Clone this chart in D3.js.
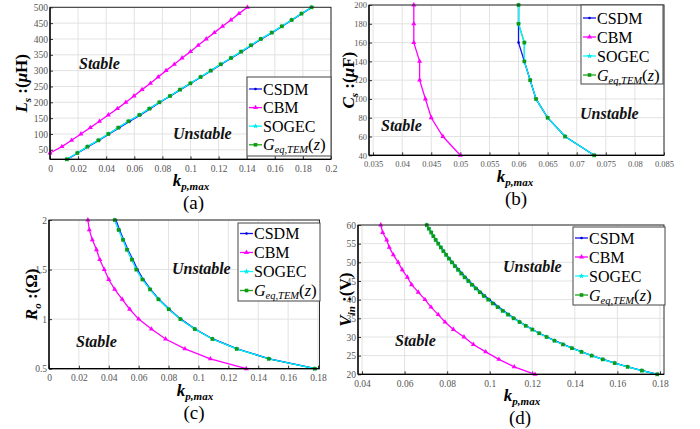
<!DOCTYPE html>
<html><head><meta charset="utf-8">
<script src="https://cdn.jsdelivr.net/npm/d3@7"></script>
<style>
html,body{margin:0;padding:0;background:#fff;}
svg{display:block;}
svg text{font-family:"Liberation Serif","Tinos","Times New Roman","DejaVu Serif",serif !important;}
</style></head>
<body>
<svg id="chart" width="700" height="429"></svg>
<script>
// ---------- DATA ----------
// (a) Ls (uH) vs kp,max
const aLsCBM = [40,60,80,100,120,140,160,180,200,220,240,260,280,300,320,340,360,380,400,420,440,460,480,500];
const aKpCBM = [0,0.0085,0.0154,0.022,0.0287,0.0352,0.0415,0.048,0.054,0.0598,0.0655,0.0715,0.077,0.0826,0.0885,0.094,0.1,0.1055,0.1112,0.117,0.1228,0.1288,0.1345,0.1405];
const aLsEQ = [20,40,60,80,100,120,140,160,180,200,220,240,260,280,300,320,340,360,380,400,420,440,460,480,500];
const aKpCSDM = [0.0125,0.0198,0.0272,0.0350,0.0421,0.0494,0.0568,0.0644,0.0714,0.0783,0.0858,0.093,0.1003,0.1076,0.1148,0.1219,0.1293,0.1366,0.1436,0.1505,0.1582,0.1653,0.1723,0.1793,0.1865];
const aKpSOGEC = [0.012,0.0195,0.0266,0.0344,0.0415,0.0486,0.0558,0.0636,0.0707,0.0778,0.0854,0.0925,0.0999,0.1072,0.1144,0.1215,0.1288,0.136,0.143,0.150,0.1578,0.165,0.172,0.179,0.1862];
const aKpGEQ = [0.012,0.0195,0.0266,0.0344,0.0415,0.0486,0.0558,0.0636,0.0707,0.0778,0.0854,0.0925,0.0999,0.1072,0.1144,0.1215,0.1288,0.136,0.143,0.150,0.1578,0.165,0.172,0.179,0.1862];
const aXTicks = [0,0.02,0.04,0.06,0.08,0.1,0.12,0.14,0.16,0.18,0.2];
const aYTicks = [50,100,150,200,250,300,350,400,450,500];

// (b) Cs (uF) vs kp,max
const bCs = [200,180,160,140,120,100,80,60,40];
const bKpCBM = [0.042,0.042,0.042,0.043,0.043,0.044,0.045,0.047,0.050];
const bKpCSDM = [0.060,0.060,0.060,0.061,0.062,0.063,0.065,0.068,0.073];
const bKpSOGEC = [0.060,0.060,0.061,0.061,0.062,0.063,0.065,0.068,0.073];
const bKpGEQ = [0.060,0.060,0.061,0.061,0.062,0.063,0.065,0.068,0.073];
const bXTicks = [0.035,0.04,0.045,0.05,0.055,0.06,0.065,0.07,0.075,0.08,0.085];
const bYTicks = [40,60,80,100,120,140,160,180,200];

// (c) Ro (Ohm) vs kp,max
const cRo = [2.0,1.9,1.8,1.7,1.6,1.5,1.4,1.3,1.2,1.1,1.0,0.9,0.8,0.7,0.6,0.5];
const cKpCBM = [0.026,0.027,0.029,0.0318,0.034,0.037,0.040,0.044,0.049,0.054,0.060,0.0685,0.078,0.091,0.108,0.132];
const cKpCSDM = [0.0448,0.0472,0.0500,0.0528,0.0561,0.0592,0.0631,0.0680,0.0736,0.0805,0.0882,0.0978,0.1096,0.1260,0.1476,0.1785];
const cKpSOGEC = [0.044,0.0466,0.0495,0.0522,0.0555,0.0584,0.0625,0.0676,0.0732,0.0801,0.0879,0.0975,0.1093,0.1256,0.147,0.1778];
const cKpGEQ = [0.044,0.0466,0.0495,0.0522,0.0555,0.0584,0.0625,0.0676,0.0732,0.0801,0.0879,0.0975,0.1093,0.1256,0.147,0.1778];
const cXTicks = [0,0.02,0.04,0.06,0.08,0.1,0.12,0.14,0.16,0.18];
const cYTicks = [0.5,1,1.5,2];

// (d) Vin (V) vs kp,max
const dVinCBM = [60,58,56,54,52,50,48,46,44,42,40,38,36,34,32,30,28,26,24,22,20];
const dKpCBM = [0.0488,0.0497,0.0516,0.0528,0.0547,0.0570,0.0589,0.0613,0.0633,0.0664,0.0696,0.0724,0.0758,0.0790,0.0829,0.0879,0.0923,0.0981,0.1043,0.1115,0.1213];
const dVinEQ = [60,59,58,57,56,55,54,53,52,51,50,49,48,47,46,45,44,43,42,41,40,39,38,37,36,35,34,33,32,31,30,29,28,27,26,25,24,23,22,21,20];
const dKpCSDM = [0.0704,0.0714,0.0725,0.0736,0.0747,0.0759,0.0771,0.0784,0.0797,0.0811,0.0825,0.0840,0.0855,0.0870,0.0886,0.0903,0.0921,0.0939,0.0958,0.0978,0.0999,0.1020,0.1042,0.1065,0.1090,0.1115,0.1142,0.1171,0.1202,0.1234,0.1269,0.1306,0.1346,0.1388,0.1433,0.1481,0.1533,0.1589,0.1650,0.1717,0.1790];
const dKpSOGEC = [0.0704,0.0714,0.0725,0.0735,0.0746,0.0758,0.0770,0.0782,0.0795,0.0808,0.0822,0.0836,0.0851,0.0866,0.0882,0.0899,0.0916,0.0934,0.0953,0.0972,0.0993,0.1014,0.1037,0.1061,0.1086,0.1112,0.1140,0.1169,0.1200,0.1232,0.1267,0.1304,0.1344,0.1386,0.1431,0.1479,0.1531,0.1587,0.1648,0.1715,0.1787];
const dKpGEQ = [0.0704,0.0714,0.0725,0.0735,0.0746,0.0758,0.0770,0.0782,0.0795,0.0808,0.0822,0.0836,0.0851,0.0866,0.0882,0.0899,0.0916,0.0934,0.0953,0.0972,0.0993,0.1014,0.1037,0.1061,0.1086,0.1112,0.1140,0.1169,0.1200,0.1232,0.1267,0.1304,0.1344,0.1386,0.1431,0.1479,0.1531,0.1587,0.1648,0.1715,0.1787];
const dXTicks = [0.04,0.06,0.08,0.1,0.12,0.14,0.16,0.18];
const dYTicks = [20,25,30,35,40,45,50,55,60];

const seriesNames = ["CSDM","CBM","SOGEC","Geq"];
const panelLetters = ["(a)","(b)","(c)","(d)"];

// ---------- STYLE ----------
const FONT = "'Liberation Serif','Tinos','Times New Roman','DejaVu Serif',serif";
const COL = {CSDM:"#1010ff", CBM:"#ff00ff", SOGEC:"#00ffff", Geq:"#1aa81a"};
const svg = d3.select("#chart").attr("font-family",FONT);
const fmt = d => String(+(+d).toFixed(4));

function marker(g, name, cx, cy){
  if(name==="CSDM"){
    g.append("circle").attr("cx",cx).attr("cy",cy).attr("r",1.3).attr("fill","#0000cc");
  } else if(name==="CBM"){
    g.append("path").attr("d",d3.symbol(d3.symbolTriangle,11)()).attr("transform",`translate(${cx},${cy})`).attr("fill","#ff00ff");
  } else if(name==="SOGEC"){
    g.append("path").attr("d",d3.symbol(d3.symbolStar,10)()).attr("transform",`translate(${cx},${cy})`).attr("fill","#00e8e8");
  } else {
    g.append("path").attr("d",d3.symbol(d3.symbolSquare,13)()).attr("transform",`translate(${cx},${cy})`).attr("fill","#119911");
  }
}

function addYLabel(g, cx, cy, main, sub, unit){
  const t = g.append("text").attr("transform",`translate(${cx},${cy}) rotate(-90)`)
    .attr("text-anchor","middle").attr("font-size",17).attr("font-weight","bold").attr("fill","#000");
  t.append("tspan").attr("font-style","italic").text(main);
  t.append("tspan").attr("font-style","italic").attr("font-size",11).attr("dy",4).text(sub);
  t.append("tspan").attr("dy",-4).text(" :(");
  unit(t);
}

function addXLabel(g, cx, cy){
  const t = g.append("text").attr("x",cx).attr("y",cy).attr("text-anchor","middle")
    .attr("font-size",17).attr("font-weight","bold").attr("font-style","italic").attr("fill","#000");
  t.append("tspan").text("k");
  t.append("tspan").attr("font-size",11).attr("dy",4).text("p,max");
}

function panel(p){
  const g = svg.append("g");
  const x = d3.scaleLinear().domain(p.xd).range([p.l,p.r]);
  const y = d3.scaleLinear().domain(p.yd).range([p.b,p.t]);
  // grid
  g.append("g").selectAll("line").data(p.xt).join("line")
    .attr("x1",d=>x(d)).attr("x2",d=>x(d)).attr("y1",p.t).attr("y2",p.b)
    .attr("stroke","#e2e2e2").attr("stroke-width",1);
  g.append("g").selectAll("line").data(p.yt).join("line")
    .attr("y1",d=>y(d)).attr("y2",d=>y(d)).attr("x1",p.l).attr("x2",p.r)
    .attr("stroke","#e2e2e2").attr("stroke-width",1);
  // axes
  const ax = g.append("g").attr("transform",`translate(0,${p.b})`)
    .call(d3.axisBottom(x).tickValues(p.xt).tickFormat(fmt).tickSizeInner(-3).tickSizeOuter(0).tickPadding(5.5));
  const ay = g.append("g").attr("transform",`translate(${p.l},0)`)
    .call(d3.axisLeft(y).tickValues(p.yt).tickFormat(fmt).tickSizeInner(-3).tickSizeOuter(0).tickPadding(2));
  [ax,ay].forEach(a=>{
    a.attr("font-family",FONT);
    a.select(".domain").remove();
    a.selectAll("line").attr("stroke","#333");
    a.selectAll("text").attr("font-size",p.tfs).attr("fill","#555");
  });
  // series
  const line = d3.line().x(d=>x(d[0])).y(d=>y(d[1]));
  const order = ["Geq","CBM","CSDM","SOGEC"];
  order.forEach(n=>{
    const s = p.series[n];
    const pts = s.x.map((v,i)=>[v,s.y[i]]);
    g.append("path").datum(pts).attr("d",line).attr("fill","none")
      .attr("stroke",COL[n]).attr("stroke-width",n==="SOGEC"?1.2:1.3);
  });
  ["CSDM","CBM","SOGEC","Geq"].forEach(n=>{
    const s = p.series[n];
    s.x.forEach((v,i)=>marker(g,n,x(v),y(s.y[i])));
  });
  // box
  g.append("rect").attr("x",p.l).attr("y",p.t).attr("width",p.r-p.l).attr("height",p.b-p.t)
    .attr("fill","none").attr("stroke","#2a2a2a").attr("stroke-width",1);
  g.append("line").attr("x1",p.l).attr("x2",p.l).attr("y1",p.t).attr("y2",p.b).attr("stroke","#000").attr("stroke-width",1.3);
  g.append("line").attr("x1",p.l).attr("x2",p.r).attr("y1",p.b).attr("y2",p.b).attr("stroke","#000").attr("stroke-width",1.3);
  // region labels
  [["Stable",p.st],["Unstable",p.un]].forEach(([txt,pos])=>{
    g.append("text").attr("x",pos[0]).attr("y",pos[1]).attr("font-size",16)
      .attr("font-weight","bold").attr("font-style","italic").attr("fill","#111").text(txt);
  });
  // legend
  const L = p.leg;
  g.append("rect").attr("x",L.x).attr("y",L.y).attr("width",L.w).attr("height",L.h)
    .attr("fill","#fff").attr("stroke","#444").attr("stroke-width",1);
  seriesNames.forEach((n,i)=>{
    const cy = L.y + L.first + i*L.step;
    g.append("line").attr("x1",L.x+2).attr("x2",L.x+15).attr("y1",cy).attr("y2",cy)
      .attr("stroke",COL[n]).attr("stroke-width",1.3);
    marker(g,n,L.x+8.5,cy);
    const t = g.append("text").attr("x",L.x+16).attr("y",cy+5.5).attr("font-size",16).attr("fill","#000");
    if(n==="Geq"){
      t.append("tspan").attr("font-style","italic").text("G");
      t.append("tspan").attr("font-style","italic").attr("font-size",10.5).attr("dy",3).text("eq,TEM");
      t.append("tspan").attr("dy",-3).attr("font-size",17).text("(");
      t.append("tspan").attr("font-style","italic").text("z");
      t.append("tspan").attr("font-size",17).text(")");
    } else t.text(n);
  });
  // axis labels
  addXLabel(g,p.xlx,p.b+27);
  addYLabel(g,p.ylx,(p.t+p.b)/2,p.ylMain,p.ylSub,p.ylUnit);
  g.append("text").attr("x",p.letx).attr("y",p.b+50).attr("text-anchor","middle")
    .attr("font-size",19).attr("fill","#000").text(p.letter);
}

panel({
  l:50,r:331,t:7.3,b:159.3,xd:[0,0.2],yd:[20,500],xt:aXTicks,yt:aYTicks,tfs:9.5,
  series:{CSDM:{x:aKpCSDM,y:aLsEQ},CBM:{x:aKpCBM,y:aLsCBM},SOGEC:{x:aKpSOGEC,y:aLsEQ},Geq:{x:aKpGEQ,y:aLsEQ}},
  st:[79,69],un:[173,139],
  leg:{x:247,y:77,w:84,h:79,first:12,step:18.6},
  xlx:191,letx:193.5,
  ylx:27,ylMain:"L",ylSub:"s",ylUnit:t=>{t.append("tspan").attr("font-style","italic").text("μ");t.append("tspan").text("H)");},
  letter:panelLetters[0]
});
panel({
  l:369,r:664,t:5,b:155.3,xd:[0.0343,0.085],yd:[40,200],xt:bXTicks,yt:bYTicks,tfs:8.5,
  series:{CSDM:{x:bKpCSDM,y:bCs},CBM:{x:bKpCBM,y:bCs},SOGEC:{x:bKpSOGEC,y:bCs},Geq:{x:bKpGEQ,y:bCs}},
  st:[381,131],un:[580,119],
  leg:{x:581,y:5,w:82,h:79,first:13,step:19},
  xlx:515,letx:516,
  ylx:354,ylMain:"C",ylSub:"s",ylUnit:t=>{t.append("tspan").attr("font-style","italic").text("μ");t.append("tspan").text("F)");},
  letter:panelLetters[1]
});
panel({
  l:49,r:319.5,t:220,b:368.7,xd:[0,0.181],yd:[0.5,2],xt:cXTicks,yt:cYTicks,tfs:9.5,
  series:{CSDM:{x:cKpCSDM,y:cRo},CBM:{x:cKpCBM,y:cRo},SOGEC:{x:cKpSOGEC,y:cRo},Geq:{x:cKpGEQ,y:cRo}},
  st:[76,347],un:[172,274],
  leg:{x:238,y:223,w:82,h:78,first:10.5,step:19},
  xlx:195,letx:194,
  ylx:37,ylMain:"R",ylSub:"o",ylUnit:t=>{t.append("tspan").text("Ω)");},
  letter:panelLetters[2]
});
panel({
  l:358,r:664,t:225,b:374.3,xd:[0.0381,0.1819],yd:[20,60],xt:dXTicks,yt:dYTicks,tfs:9.5,
  series:{CSDM:{x:dKpCSDM,y:dVinEQ},CBM:{x:dKpCBM,y:dVinCBM},SOGEC:{x:dKpSOGEC,y:dVinEQ},Geq:{x:dKpGEQ,y:dVinEQ}},
  st:[395,346],un:[503,272],
  leg:{x:573,y:227,w:92,h:78,first:11,step:19},
  xlx:522,letx:520,
  ylx:351,ylMain:"V",ylSub:"in",ylUnit:t=>{t.append("tspan").text("V)");},
  letter:panelLetters[3]
});
</script>
</body></html>
